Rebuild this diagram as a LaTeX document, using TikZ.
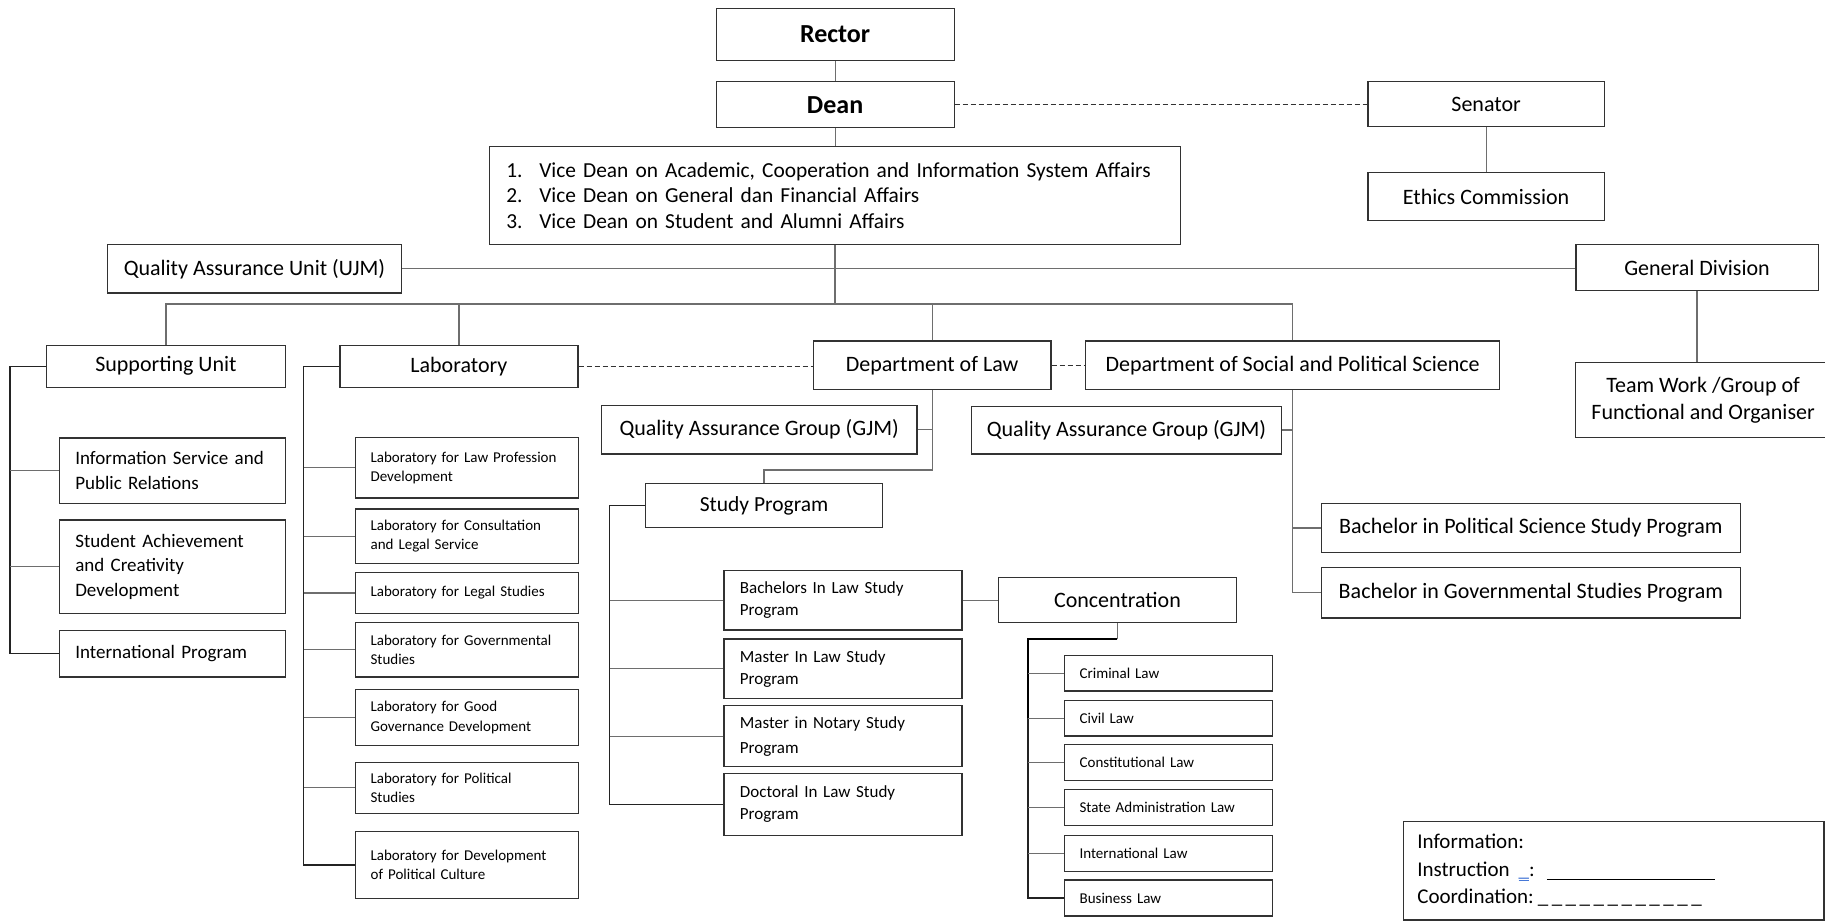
\documentclass[tikz,border=0pt]{standalone}
\usepackage{fontspec}
\setmainfont{Carlito}
\definecolor{boxc}{RGB}{50,50,50}
\definecolor{linec}{RGB}{110,110,110}
\definecolor{spinec}{RGB}{35,35,35}
\definecolor{linkblue}{RGB}{70,120,215}
\newcommand{\fsz}[2]{\fontsize{#1}{#2}\selectfont}
\newcommand{\numit}[1]{\makebox[33pt][l]{#1}}
\begin{document}
\begin{tikzpicture}[x=1pt,y=-1pt,
  box/.style={draw=boxc, line width=1.2pt, inner sep=0pt, anchor=north west, align=center, fill=white},
  lbox/.style={box, align=left},
  conn/.style={draw=linec, line width=1.2pt},
  spine/.style={draw=spinec, line width=1.2pt},
  thickspine/.style={draw=black, line width=2.2pt},
  dashconn/.style={draw=boxc, line width=1pt, dash pattern=on 5pt off 3pt},
  bigfont/.style={font=\fsz{26}{30}\bfseries},
  mainfont/.style={font=\fsz{22}{27}},
  sufont/.style={font=\fsz{19}{24.5}},
  labfont/.style={font=\fsz{15}{19.5}},
  spfont/.style={font=\fsz{17}{22}},
  concfont/.style={font=\fsz{15}{19}}
]
\useasboundingbox[fill=white] (0,0) rectangle (1825,923);

% top level
\node[box, bigfont, minimum width=238, minimum height=51.4] (rector) at (715.5,8.3) {Rector};
\node[box, bigfont, minimum width=238, minimum height=45.7] (dean) at (715.5,81.3) {Dean};
\node[lbox, inner xsep=17, text width=657.3, minimum height=98.3, font=\fsz{21.4}{25.5}] (vd) at (488.7,145.7)
  {\mbox{\numit{1.}Vice Dean on Academic, Cooperation and Information System Affairs}\\
   \mbox{\numit{2.}Vice Dean on General dan Financial Affairs}\\
   \mbox{\numit{3.}Vice Dean on Student and Alumni Affairs}\\[-3pt]};
\node[box, mainfont, minimum width=236.4, minimum height=45.3] (senator) at (1367.3,81) {Senator};
\node[box, mainfont, minimum width=236.4, minimum height=48] (ethics) at (1367.3,172) {Ethics Commission};
\node[box, mainfont, minimum width=293.6, minimum height=48.3] (qau) at (107,244) {Quality Assurance Unit (UJM)};
\node[box, mainfont, minimum width=242.3, minimum height=45.7] (gendiv) at (1575.3,244) {General Division};
\node[box, mainfont, minimum width=255, minimum height=75] (team) at (1575,361.7) {Team Work /Group of\\Functional and Organiser};

% second level
\node[box, mainfont, minimum width=238.8, minimum height=42.3] (su) at (45.9,344.5) {Supporting Unit};
\node[box, mainfont, minimum width=238, minimum height=42.3] (lab) at (339.3,344.5) {Laboratory};
\node[box, mainfont, minimum width=237.7, minimum height=48.7] (law) at (812.7,340.3) {Department of Law};
\node[box, mainfont, minimum width=413.7, minimum height=48.7] (soc) at (1085.2,340.3) {Department of Social and Political Science};
\node[box, mainfont, minimum width=315.5, minimum height=48.8] (qag1) at (600.8,404.5) {Quality Assurance Group (GJM)};
\node[box, mainfont, minimum width=310.2, minimum height=47.8] (qag2) at (970.8,405.5) {Quality Assurance Group (GJM)};
\node[box, font=\fsz{21.5}{26}, minimum width=237.5, minimum height=44] (sp) at (644.7,483) {Study Program};

% supporting unit children
\node[lbox, sufont, inner xsep=15.7, text width=194.3, minimum height=65.4] (infos) at (59,437.3) {Information Service and\\Public Relations};
\node[lbox, sufont, inner xsep=15.7, text width=194.3, minimum height=93.7] (stud) at (59,519.3) {Student Achievement\\and Creativity\\Development};
\node[lbox, sufont, inner xsep=15.7, text width=194.3, minimum height=46.6] (intl) at (59,629.7) {International Program};

% laboratory children
\node[lbox, labfont, inner xsep=15.3, text width=192.8, minimum height=60.3] (l1) at (354.7,437) {Laboratory for Law Profession\\Development};
\node[lbox, labfont, inner xsep=15.3, text width=192.8, minimum height=54.4] (l2) at (354.7,508.3) {Laboratory for Consultation\\and Legal Service};
\node[lbox, labfont, inner xsep=15.3, text width=192.8, minimum height=41.3] (l3) at (354.7,571.7) {Laboratory for Legal Studies};
\node[lbox, labfont, inner xsep=15.3, text width=192.8, minimum height=54.6] (l4) at (354.7,621.7) {Laboratory for Governmental\\Studies};
\node[lbox, labfont, inner xsep=15.3, text width=192.8, minimum height=56.3] (l5) at (354.7,688.7) {Laboratory for Good\\Governance Development};
\node[lbox, labfont, inner xsep=15.3, text width=192.8, minimum height=51] (l6) at (354.7,761.7) {Laboratory for Political\\Studies};
\node[lbox, labfont, inner xsep=15.3, text width=192.8, minimum height=67.3] (l7) at (354.7,830.7) {Laboratory for Development\\of Political Culture\\[10pt]};

% study programs
\node[lbox, spfont, inner xsep=16, text width=206, minimum height=59.6] (bach) at (723.3,569.7) {Bachelors In Law Study\\Program};
\node[lbox, spfont, inner xsep=16, text width=206, minimum height=59.7] (mlaw) at (723.3,638.3) {Master In Law Study\\Program};
\node[lbox, font=\fsz{17}{25}, inner xsep=16, text width=206, minimum height=61] (mnot) at (723.3,705) {Master in Notary Study\\Program};
\node[lbox, spfont, inner xsep=16, text width=206, minimum height=62] (doct) at (723.3,772.7) {Doctoral In Law Study\\Program};
\node[box, mainfont, minimum width=237.9, minimum height=45] (conc) at (997.9,577) {Concentration};

% concentrations
\node[lbox, concfont, inner xsep=15.5, text width=177, minimum height=35.6] (c1) at (1063.5,654.7) {Criminal Law};
\node[lbox, concfont, inner xsep=15.5, text width=177, minimum height=35.6] (c2) at (1063.5,699.7) {Civil Law};
\node[lbox, concfont, inner xsep=15.5, text width=177, minimum height=36] (c3) at (1063.5,744) {Constitutional Law};
\node[lbox, concfont, inner xsep=15.5, text width=177, minimum height=36] (c4) at (1063.5,789) {State Administration Law};
\node[lbox, concfont, inner xsep=15.5, text width=177, minimum height=36] (c5) at (1063.5,834.7) {International Law};
\node[lbox, concfont, inner xsep=15.5, text width=177, minimum height=36] (c6) at (1063.5,879.3) {Business Law};

% social and political programs
\node[box, mainfont, minimum width=418.8, minimum height=49.3] (bps) at (1320.8,502.7) {Bachelor in Political Science Study Program};
\node[box, mainfont, minimum width=418.8, minimum height=50.3] (bgs) at (1320.8,567) {Bachelor in Governmental Studies Program};

% legend
\node[lbox, font=\fsz{21}{27.5}, inner xsep=14, text width=392.6, minimum height=98.6] (info) at (1402.7,820.7)
  {Information:\\
   Instruction\hspace{9pt}\textcolor{linkblue}{\underline{\_}}:\hspace{12pt}\rule[-3.5pt]{168pt}{1pt}\\
   Coordination:\hspace{4pt}\_\,\_\,\_\,\_\,\_\,\_\,\_\,\_\,\_\,\_\,\_\,\_};

% connectors: top
\draw[conn] (rector.south) -- (dean.north);
\draw[conn] (dean.south) -- (dean.south |- vd.north);
\draw[dashconn] (dean.east) -- (dean.east -| senator.west);
\draw[conn] (senator.south) -- (ethics.north);
\draw[conn] (qau.east) -- (qau.east -| gendiv.west);
\coordinate (bus) at (834.4,304);
\draw[conn] (vd.south) -- (vd.south |- bus);
\draw[conn] (su.north) -- (su.north |- bus) -- (soc.north |- bus) -- (soc.north);
\draw[conn] (lab.north) -- (lab.north |- bus);
\draw[conn] (law.north) -- (law.north |- bus);
\draw[conn] (gendiv.south) -- (gendiv.south |- team.north);
\draw[dashconn] (lab.east) -- (lab.east -| law.west);
\draw[dashconn] (law.east) -- (law.east -| soc.west);

% supporting unit spine
\coordinate (sux) at (10,0);
\draw[spine] (su.west) -| (sux |- intl.west) -- (intl.west);
\draw[conn] (sux |- infos.west) -- (infos.west);
\draw[conn] (sux |- stud.west) -- (stud.west);

% laboratory spine
\coordinate (labx) at (303.7,0);
\draw[spine] (lab.west) -| (labx |- l7.west) -- (l7.west);
\foreach \n in {l1,l2,l3,l4,l5,l6}{\draw[conn] (labx |- \n.west) -- (\n.west);}

% department of law
\coordinate (lawturn) at (931.7,470);
\draw[conn] (law.south) -- (law.south |- lawturn) -| (sp.north);
\draw[conn] (qag1.east) -- (qag1.east -| law.south);

% study program spine
\coordinate (spx) at (609.5,0);
\draw[spine] (sp.west) -| (spx |- doct.west) -- (doct.west);
\foreach \n in {bach,mlaw,mnot}{\draw[conn] (spx |- \n.west) -- (\n.west);}
\draw[conn] (bach.east) -- (bach.east -| conc.west);

% concentration spine
\coordinate (cj) at (1028,639);
\draw[conn] (conc.south) -- (conc.south |- cj);
\draw[thickspine] (conc.south |- cj) -- (cj) -- (cj |- c2.west);
\draw[spine] (cj |- c2.west) -- (cj |- c6.west) -- (c6.west);
\foreach \n in {c1,c2,c3,c4,c5}{\draw[conn] (cj |- \n.west) -- (\n.west);}

% department of social and political science
\draw[conn] (soc.south) -- (soc.south |- bgs.west) -- (bgs.west);
\draw[conn] (qag2.east) -- (qag2.east -| soc.south);
\draw[conn] (soc.south |- bps.west) -- (bps.west);
\end{tikzpicture}
\end{document}
